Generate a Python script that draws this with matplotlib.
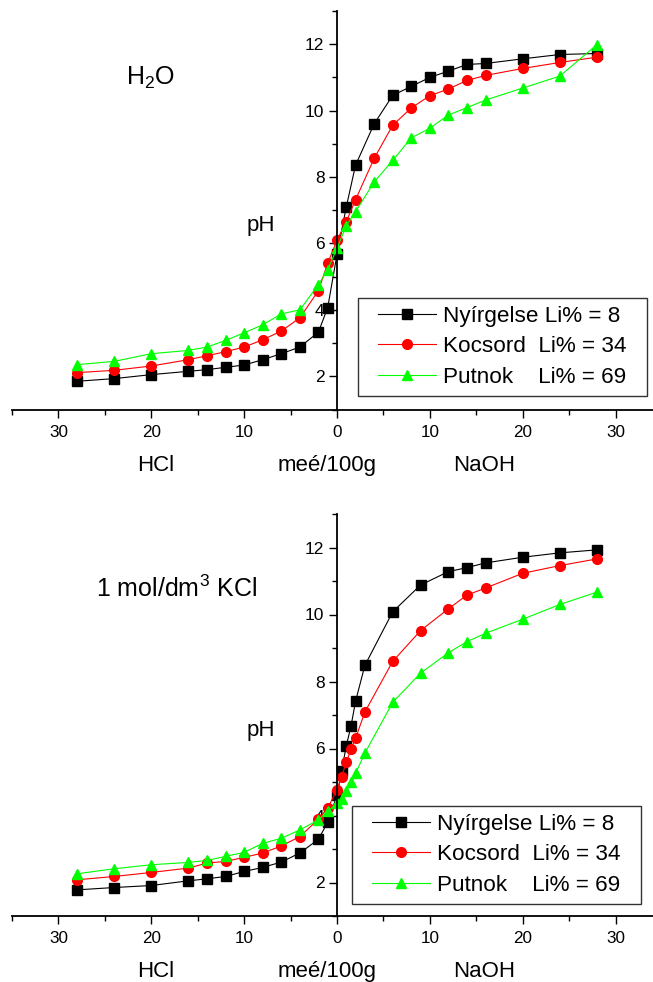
import matplotlib
matplotlib.use('Agg')
import matplotlib.pyplot as plt
from matplotlib.patches import Rectangle
from matplotlib.transforms import IdentityTransform
from matplotlib.ticker import MultipleLocator, FuncFormatter

plt.rcParams['font.family'] = ['Liberation Sans', 'DejaVu Sans']
plt.rcParams['mathtext.fontset'] = 'custom'
plt.rcParams['mathtext.rm'] = 'Liberation Sans'

# meé/100g; negative = HCl side, positive = NaOH side
x_h2o = [-28, -24, -20, -16, -14, -12, -10, -8, -6, -4, -2, -1, 0,
         1, 2, 4, 6, 8, 10, 12, 14, 16, 20, 24, 28]
h2o_nyirgelse = [1.85, 1.93, 2.05, 2.15, 2.20, 2.27, 2.34, 2.50, 2.68, 2.88, 3.33, 4.07, 5.67,
                 7.10, 8.36, 9.60, 10.46, 10.73, 11.00, 11.19, 11.39, 11.42, 11.56, 11.69, 11.72]
h2o_kocsord = [2.11, 2.18, 2.31, 2.50, 2.62, 2.74, 2.88, 3.10, 3.36, 3.76, 4.58, 5.41, 6.09,
               6.66, 7.32, 8.56, 9.56, 10.08, 10.45, 10.65, 10.91, 11.06, 11.27, 11.45, 11.61]
h2o_putnok = [2.35, 2.45, 2.68, 2.78, 2.88, 3.08, 3.31, 3.55, 3.88, 4.00, 4.76, 5.21, 5.85,
              6.54, 6.96, 7.85, 8.50, 9.18, 9.47, 9.87, 10.09, 10.32, 10.68, 11.04, 11.99]

x_kcl = [-28, -24, -20, -16, -14, -12, -10, -8, -6, -4, -2, -1, 0,
         0.5, 1, 1.5, 2, 3, 6, 9, 12, 14, 16, 20, 24, 28]
kcl_nyirgelse = [1.78, 1.85, 1.91, 2.05, 2.11, 2.18, 2.33, 2.45, 2.61, 2.88, 3.29, 3.80, 4.60,
                 5.33, 6.08, 6.66, 7.41, 8.48, 10.08, 10.88, 11.28, 11.40, 11.54, 11.71, 11.84, 11.93]
kcl_kocsord = [2.08, 2.18, 2.30, 2.43, 2.58, 2.63, 2.75, 2.88, 3.09, 3.37, 3.89, 4.22, 4.77,
               5.16, 5.59, 5.98, 6.30, 7.09, 8.60, 9.52, 10.17, 10.58, 10.79, 11.23, 11.46, 11.66]
kcl_putnok = [2.26, 2.41, 2.53, 2.60, 2.66, 2.78, 2.90, 3.17, 3.32, 3.57, 3.87, 4.12, 4.37,
              4.49, 4.72, 4.99, 5.26, 5.86, 7.38, 8.25, 8.86, 9.19, 9.44, 9.86, 10.30, 10.67]

labels = ['Nyírgelse Li% = 8', 'Kocsord  Li% = 34', 'Putnok    Li% = 69']
colors = ['black', '#ff0000', '#00ff00']
markers = ['s', 'o', '^']
msizes = [6.5, 7, 7.5]

fig = plt.figure(figsize=(6.53, 9.82), dpi=100)
legends = []


def panel(rect, x, series, title, title_xy, legend_xy):
    ax = fig.add_axes(rect)
    for ys, lab, c, m, ms in zip(series, labels, colors, markers, msizes):
        ax.plot(x, ys, color=c, marker=m, markersize=ms, markerfacecolor=c,
                markeredgecolor=c, linewidth=0.8, label=lab)
    ax.set_xlim(-35, 35)
    ax.set_ylim(1, 13)
    ax.spines['top'].set_visible(False)
    ax.spines['right'].set_visible(False)
    ax.spines['left'].set_position(('data', 0))
    ax.spines['left'].set_linewidth(1.3)
    ax.spines['bottom'].set_linewidth(1.3)
    ax.xaxis.set_major_locator(MultipleLocator(10))
    ax.xaxis.set_minor_locator(MultipleLocator(5))
    ax.yaxis.set_major_locator(MultipleLocator(2))
    ax.yaxis.set_minor_locator(MultipleLocator(1))
    ax.xaxis.set_major_formatter(FuncFormatter(lambda v, p: '%d' % abs(v)))
    ax.yaxis.set_major_formatter(FuncFormatter(lambda v, p: '' if v < 2 else '%d' % v))
    ax.tick_params(axis='x', which='major', direction='out', length=6, width=1, labelsize=12.3, pad=5)
    ax.tick_params(axis='y', which='major', direction='out', length=6, width=1, labelsize=12.5, pad=3)
    ax.tick_params(which='minor', direction='out', length=3.5, width=1)

    for txt, xv in [('HCl', -19.5), ('meé/100g', -1.1), ('NaOH', 15.8)]:
        ax.annotate(txt, xy=(xv, 0), xycoords=('data', 'axes fraction'),
                    xytext=(0, -40), textcoords='offset points',
                    ha='center', va='center', fontsize=16)
    ax.text(-8.2, 6.55, 'pH', ha='center', va='center', fontsize=16)
    ax.text(title_xy[0], title_xy[1], title, ha='center', va='baseline', fontsize=18)

    leg = ax.legend(loc='upper left', bbox_to_anchor=legend_xy, bbox_transform=fig.transFigure,
                    fontsize=16.2, frameon=False,
                    handlelength=2.6, handletextpad=0.3, borderpad=0.35, labelspacing=0.42,
                    borderaxespad=0, numpoints=1)
    legends.append(leg)
    return ax


# legend frame is wider than the legend's own padding: drawn around its extent
padx = 12
panel([12 / 653, 1 - 409.5 / 982, 650 / 653, 398.5 / 982], x_h2o,
      [h2o_nyirgelse, h2o_kocsord, h2o_putnok], r'H$_\mathregular{2}$O',
      (-20.1, 10.78), ((358 + padx) / 653, 1 - 298 / 982))
panel([12 / 653, 1 - 916 / 982, 650 / 653, 402 / 982], x_kcl,
      [kcl_nyirgelse, kcl_kocsord, kcl_putnok], r'1 mol/dm$^\mathregular{3}$ KCl',
      (-17.3, 10.53), ((352 + padx) / 653, 1 - 806 / 982))

fig.canvas.draw()
renderer = fig.canvas.get_renderer()
for leg in legends:
    bb = leg.get_window_extent(renderer)
    fig.add_artist(Rectangle((bb.x0 - padx, bb.y0), bb.width + 2 * padx, bb.height,
                             transform=IdentityTransform(), fill=False,
                             edgecolor='#333333', linewidth=1.0, zorder=10))

fig.savefig('out.png', dpi=100)
